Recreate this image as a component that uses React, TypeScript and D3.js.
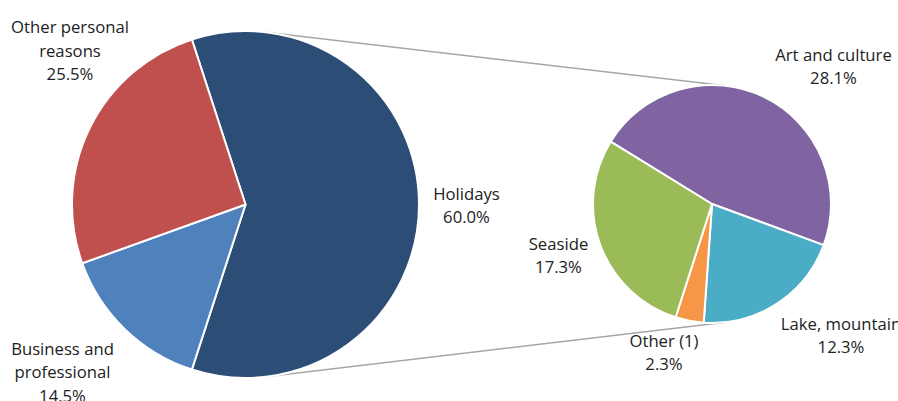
import React from "react";
import * as d3 from "d3";

// ---- data ----
const mainCategories = ["Holidays", "Business and professional", "Other personal reasons"];
const mainValues = [60.0, 14.5, 25.5];
const subCategories = ["Art and culture", "Lake, mountain", "Other (1)", "Seaside"];
const subValues = [28.1, 12.3, 2.3, 17.3];

const mainLabelLines = [["Holidays", "60.0%"], ["Business and", "professional", "14.5%"], ["Other personal", "reasons", "25.5%"]];
const subLabelLines = [["Art and culture", "28.1%"], ["Lake, mountain", "12.3%"], ["Other (1)", "2.3%"], ["Seaside", "17.3%"]];

// ---- layout / style ----
const W = 898, H = 401;
const C1 = { x: 245.5, y: 204.5, r: 173.5 };
const C2 = { x: 712, y: 204, r: 119 };
const mainColors = ["#2C4D75", "#4F81BD", "#C0504D"];
const subColors = ["#8064A2", "#4BACC6", "#F79646", "#9BBB59"];
// label anchor (centre x, first baseline y)
const mainLabelPos = [[466.5, 199.5], [62.5, 354.5], [70, 33]];
const subLabelPos = [[833.5, 60.5], [841, 329.5], [664, 346.5], [558.5, 249.5]];
const lineGap = 23.7;

export default function App() {
  const deg = Math.PI / 180;
  const mainPie = d3.pie<number>().sort(null).value((d) => d)
    .startAngle(-18 * deg).endAngle(342 * deg);
  const subPie = d3.pie<number>().sort(null).value((d) => d)
    .startAngle(-58.4 * deg).endAngle(301.6 * deg);
  const arc1 = d3.arc<d3.PieArcDatum<number>>().innerRadius(0).outerRadius(C1.r);
  const arc2 = d3.arc<d3.PieArcDatum<number>>().innerRadius(0).outerRadius(C2.r);
  const mArcs = mainPie(mainValues);
  const sArcs = subPie(subValues);

  // external tangent lines between the two circles
  const dx = C2.x - C1.x;
  const nx = (C1.r - C2.r) / dx;
  const ny = Math.sqrt(1 - nx * nx);
  const tangents = [-1, 1].map((s) => ({
    x1: C1.x + C1.r * nx, y1: C1.y + s * C1.r * ny,
    x2: C2.x + C2.r * nx, y2: C2.y + s * C2.r * ny,
  }));

  const font = "'Open Sans', sans-serif";
  const renderLabel = (lines: string[], pos: number[], key: string) => (
    <text key={key} x={pos[0]} y={pos[1]} textAnchor="middle" fontFamily={font} fontSize={16.7} fill="#222">
      {lines.map((l, i) => (
        <tspan key={i} x={pos[0]} y={pos[1] + i * lineGap}>{l}</tspan>
      ))}
    </text>
  );

  return (
    <svg width={W} height={H} style={{ position: "absolute", left: 0, top: 0, background: "#fff" }}>
      {tangents.map((t, i) => (
        <line key={i} x1={t.x1} y1={t.y1} x2={t.x2} y2={t.y2} stroke="#A6A6A6" strokeWidth={1.5} />
      ))}
      <g transform={`translate(${C1.x},${C1.y})`}>
        {mArcs.map((a, i) => (
          <path key={mainCategories[i]} d={arc1(a) || ""} fill={mainColors[i]} stroke="#fff" strokeWidth={2} strokeLinejoin="round" />
        ))}
      </g>
      <g transform={`translate(${C2.x},${C2.y})`}>
        {sArcs.map((a, i) => (
          <path key={subCategories[i]} d={arc2(a) || ""} fill={subColors[i]} stroke="#fff" strokeWidth={2} strokeLinejoin="round" />
        ))}
      </g>
      {mainLabelLines.map((l, i) => renderLabel(l, mainLabelPos[i], "m" + i))}
      {subLabelLines.map((l, i) => renderLabel(l, subLabelPos[i], "s" + i))}
    </svg>
  );
}
